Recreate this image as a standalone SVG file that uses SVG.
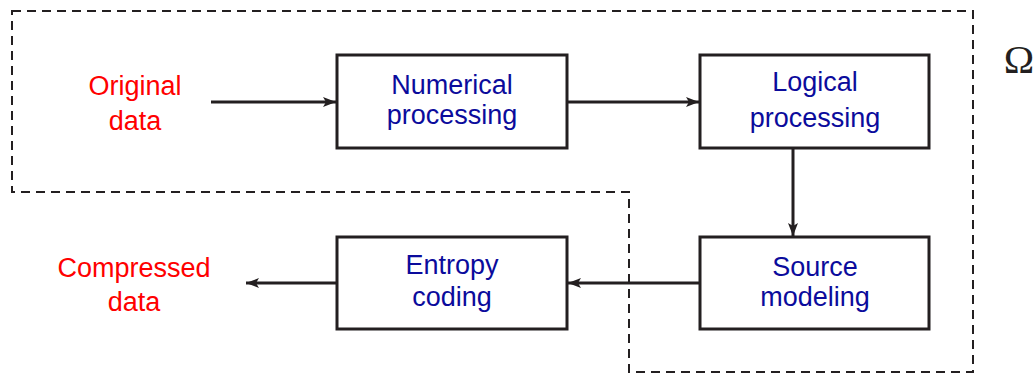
<svg xmlns="http://www.w3.org/2000/svg" width="1036" height="374" viewBox="0 0 1036 374">
<style>
.box{fill:#fff;stroke:#231f20;stroke-width:3}
.lbl{font-family:"Liberation Sans",Arial,sans-serif;font-size:27px;fill:#0b0b9c;text-anchor:middle}
.io{font-family:"Liberation Sans",Arial,sans-serif;font-size:27px;fill:#ff0000;text-anchor:middle}
.conn{stroke:#231f20;stroke-width:3;fill:none}
.dash{stroke:#231f20;stroke-width:2;fill:none;stroke-dasharray:9 6}
</style>
<defs>
<marker id="ah" viewBox="0 0 13 10" refX="13" refY="5" markerWidth="13" markerHeight="10" markerUnits="userSpaceOnUse" orient="auto">
<path d="M0,0 L13,5 L0,10 L3,5 Z" fill="#231f20"/>
</marker>
</defs>
<rect width="1036" height="374" fill="#fff"/>
<path class="dash" d="M12,11 H973 V372 H629 V192 H12 Z"/>
<text x="1019" y="73" font-family="Liberation Serif,serif" font-size="41" fill="#231f20" text-anchor="middle">Ω</text>
<g id="connectors">
<line class="conn" x1="211" y1="102" x2="336" y2="102" marker-end="url(#ah)"/>
<line class="conn" x1="567" y1="102" x2="699" y2="102" marker-end="url(#ah)"/>
<line class="conn" x1="793" y1="148" x2="793" y2="236" marker-end="url(#ah)"/>
<line class="conn" x1="700" y1="283" x2="568" y2="283" marker-end="url(#ah)"/>
<line class="conn" x1="337" y1="283" x2="246" y2="283" marker-end="url(#ah)"/>
</g>
<g id="original">
<text class="io" x="135" y="95">Original</text>
<text class="io" x="135" y="130">data</text>
</g>
<g id="numerical">
<rect class="box" x="337" y="55" width="230" height="93"/>
<text class="lbl" x="452" y="94">Numerical</text>
<text class="lbl" x="452" y="124">processing</text>
</g>
<g id="logical">
<rect class="box" x="700" y="55" width="229" height="93"/>
<text class="lbl" x="815" y="91">Logical</text>
<text class="lbl" x="815" y="127">processing</text>
</g>
<g id="source">
<rect class="box" x="700" y="237" width="229" height="92"/>
<text class="lbl" x="815" y="276">Source</text>
<text class="lbl" x="815" y="306">modeling</text>
</g>
<g id="entropy">
<rect class="box" x="337" y="237" width="230" height="92"/>
<text class="lbl" x="452" y="274">Entropy</text>
<text class="lbl" x="452" y="306">coding</text>
</g>
<g id="compressed">
<text class="io" x="134" y="277">Compressed</text>
<text class="io" x="134" y="311">data</text>
</g>
</svg>
